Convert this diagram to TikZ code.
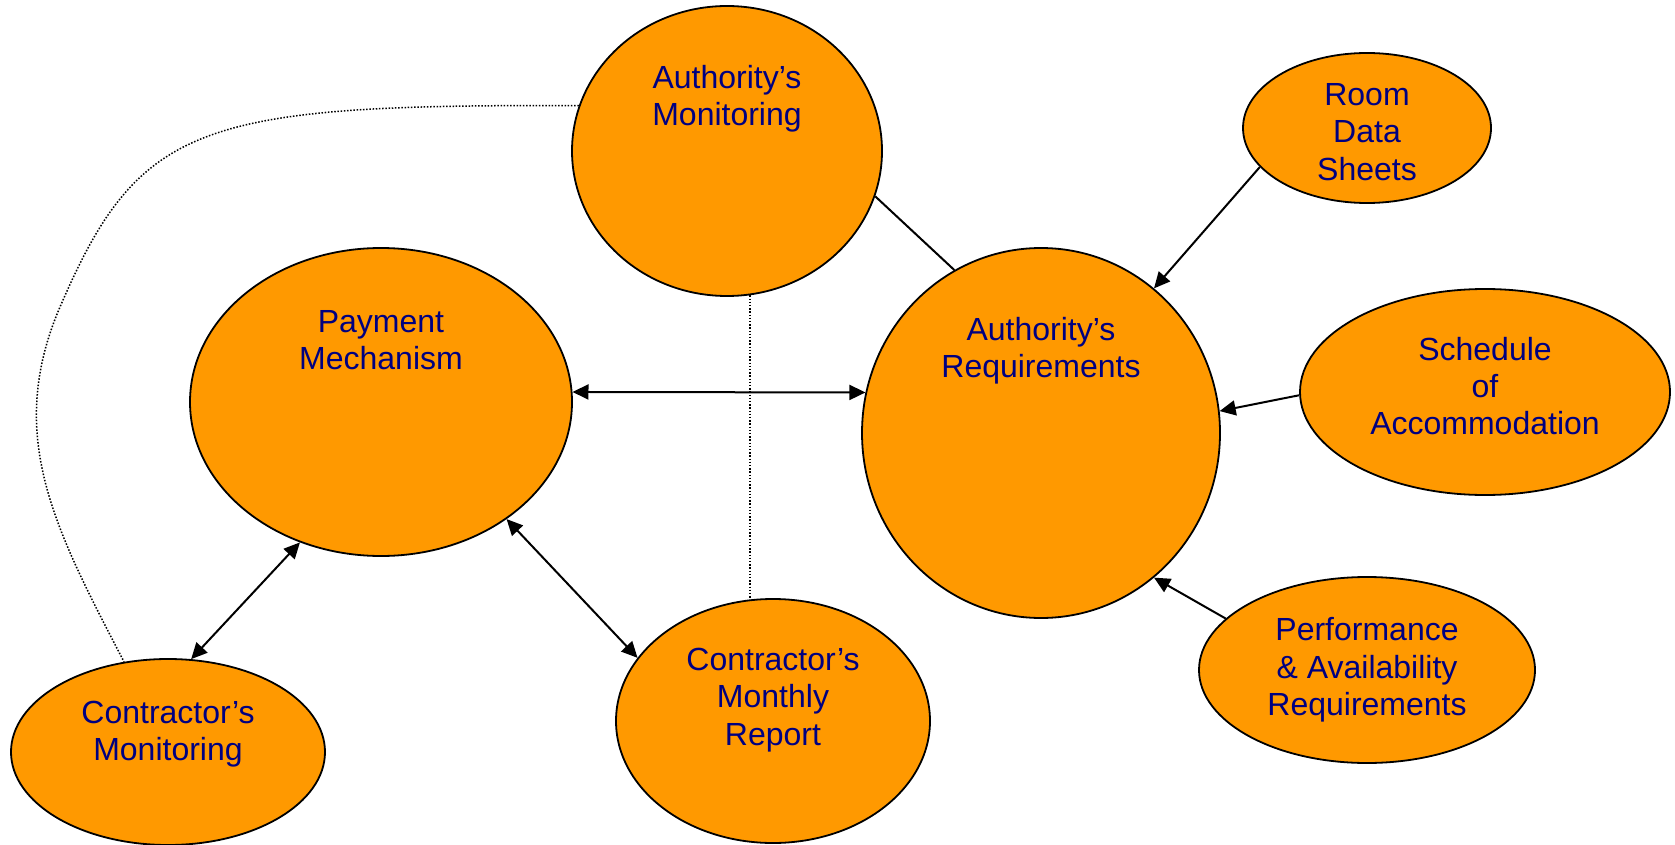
\documentclass[tikz,border=0pt]{standalone}
\usepackage{fontspec}
\setmainfont{Liberation Sans}
\usepackage{tikz}
\usetikzlibrary{arrows.meta, positioning, shapes.geometric}
\definecolor{boxorange}{RGB}{255,153,0}
\definecolor{textnavy}{RGB}{0,0,128}

\begin{document}
\begin{tikzpicture}[x=0.5pt, y=-0.5pt, >={Triangle[length=8pt,width=7.5pt]},
  on grid, line width=1pt,
  main node/.style={ellipse, draw, fill=boxorange, inner sep=0pt, line width=0.9pt},
  main text/.style={text=textnavy, align=center, font=\fontsize{16}{18.7}\selectfont},
  dots/.style={line width=0.75pt, dash pattern=on 0.75pt off 0.85pt}]
  \useasboundingbox (0,0) rectangle (1675,845);
  \node[main node, minimum width=191pt, minimum height=154pt,
    label={[main text, yshift=31pt]center:Payment\\Mechanism}] (1) at (381,402) {};
  \node[main node, minimum width=179pt, minimum height=185pt,
    label={[main text, yshift=41pt]center:Authority’s\\Requirements}] (2) [below right=15.5pt and 330pt of 1] {};
  \node[main node, minimum width=155pt, minimum height=145pt,
    label={[main text, yshift=26pt]center:Authority’s\\Monitoring}] (3) [above left=141pt and 157pt of 2] {};
  \node[main node, minimum width=124pt, minimum height=75pt,
    label={[main text, yshift=-2pt]center:Room\\Data\\Sheets}] (4) [above right=152.5pt and 163pt of 2] {};
  \node[main node, minimum width=185pt, minimum height=103pt,
    label={[main text, yshift=3pt]center:Schedule\\of\\Accommodation}] (5) [above right=20.5pt and 222pt of 2] {};
  \node[main node, minimum width=168pt, minimum height=93pt,
    label={[main text]center:Performance\\\& Availability\\Requirements}] (6) [below right=118.5pt and 163pt of 2] {};
  \node[main node, minimum width=157pt, minimum height=122pt,
    label={[main text, yshift=10.5pt]center:Contractor’s\\Monthly\\Report}] (7) [below right=159.5pt and 196pt of 1] {};
  \node[main node, minimum width=157pt, minimum height=93pt,
    label={[main text, yshift=9pt]center:Contractor’s\\Monitoring}] (8) [below left=175pt and 106.5pt of 1] {};

  \path[<->]
    (1.3) edge (2.167)
    (1.-120) edge (8.76)
    (1.-43) edge (7.155);
  \path[->]
    (4.200) edge (2.52)
    (5.181) edge (2.7)
    (6.160) edge (2.-52);
  \draw (3.-17) -- (2.118);
  % thin dotted links from the authority's monitoring
  \draw[dots] (3.-81) -- (3.-81 |- 7.north);
  \draw[dots]
    (3.163) .. controls (199,104) and (139,123) .. (60,307)
    .. controls (4.8,435.7) and (54.9,528.9) .. (8.116);
\end{tikzpicture}
\end{document}
